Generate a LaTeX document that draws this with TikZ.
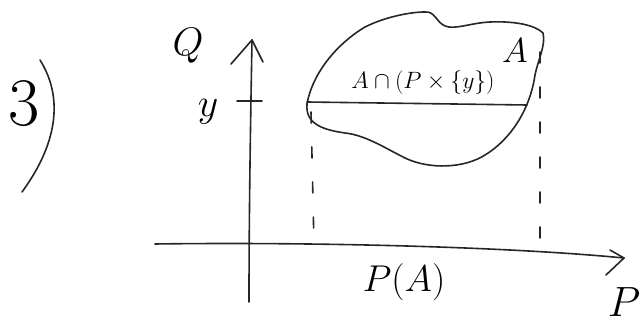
\documentclass[tikz,border=0pt]{standalone}
\usepackage{graphicx}
\usetikzlibrary{calc}
\begin{document}
\begin{tikzpicture}[x=1pt,y=-1pt,
  pen/.style={line width=1.6pt,draw=black!85,line cap=round,line join=round},
  guide/.style={pen,dash pattern=on 11pt off 24pt},
  lbl/.style={font=\fontsize{24.88}{27}\selectfont,inner sep=0pt}]
\useasboundingbox (0,0) rectangle (641,328);
% number and bracket
\node[lbl,font=\fontsize{68}{72}\selectfont] (num) at (24,104) {3};
\coordinate (b1) at (40,60);
\coordinate (b2) at (22,192);
\draw[pen] (b1) .. controls (62,95) and (60,140) .. (b2);
% axes
\coordinate (yb) at (249,302);
\coordinate (yt) at (252,40);
\coordinate (xl) at (155,244);
\coordinate (xr) at (624,258);
\draw[pen] (yb) .. controls (249,200) and (251,100) .. (yt);
\draw[pen] (231,64) -- (yt) -- (263,62);
\draw[pen] (xl) .. controls (300,242) and (500,246) .. (xr);
\draw[pen] (610,250) -- (xr) -- (606,275);
\node[lbl] (Q) at (188,46) {\scalebox{1.6}{$Q$}};
\node[lbl] (Pax) at (624,302) {\scalebox{1.7}{$P$}};
\node[lbl] (PA) at (404,282) {\scalebox{1.5}{$P(A)$}};
% y tick
\coordinate (t1) at (237,101);
\coordinate (t2) at (262,101);
\draw[pen] (t1) -- (t2);
\node[lbl] (ylab) at (208,112) {\scalebox{1.6}{$y$}};
% blob A
\draw[pen] (307,104)
  .. controls (312,75) and (335,45) .. (365,27)
  .. controls (385,17) and (410,12) .. (425,12)
  .. controls (435,11) and (436,22) .. (445,26)
  .. controls (455,30) and (470,23) .. (490,22)
  .. controls (515,21) and (535,25) .. (543,33)
  .. controls (546,45) and (538,60) .. (535,75)
  .. controls (530,110) and (510,140) .. (485,155)
  .. controls (465,168) and (430,170) .. (405,158)
  .. controls (385,148) and (365,135) .. (345,133)
  .. controls (325,130) and (305,125) .. (307,104) -- cycle;
\node[lbl] (Alab) at (515,51) {\scalebox{1.4}{$A$}};
% section line
\coordinate (s1) at (307,102);
\coordinate (s2) at (527,105);
\draw[pen] (s1) -- (s2);
\node[lbl] (sec) at (423,83) {\scalebox{0.95}{$A\cap(P\times\{y\})$}};
% dashed guides
\coordinate (d1a) at (311,112);
\coordinate (d1b) at (314,245);
\coordinate (d2a) at (540,52);
\coordinate (d2b) at (540,252);
\draw[guide] (d1a) -- (d1b);
\draw[guide] (d2a) -- (d2b);
\end{tikzpicture}
\end{document}
